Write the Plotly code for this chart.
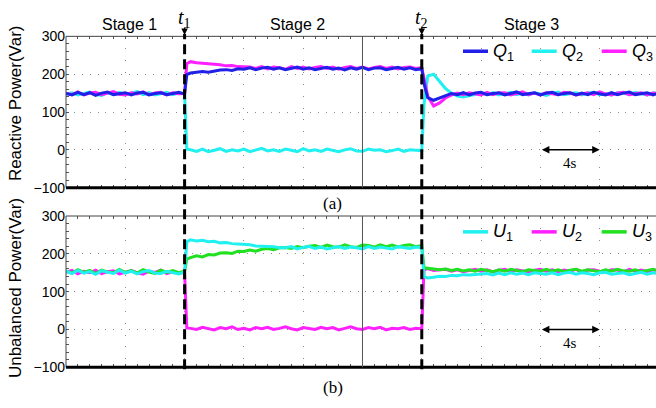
import plotly.graph_objects as go

# ---------------- data ----------------
time_s = [0.0, 0.4, 0.8, 1.2, 1.6, 2.0, 2.4, 2.8, 3.2, 3.6, 4.0, 4.4, 4.8, 5.2, 5.6, 6.0, 6.4, 6.8, 7.2, 7.6, 8.0,
          8.15,
          8.4, 8.8, 9.2, 9.6, 10.0, 10.4, 10.8, 11.2, 11.6, 12.0, 12.4, 12.8, 13.2, 13.6, 14.0, 14.4, 14.8, 15.2, 15.6, 16.0,
          16.4, 16.8, 17.2, 17.6, 18.0, 18.4, 18.8, 19.2, 19.6, 20.0, 20.4, 20.8, 21.2, 21.6, 22.0, 22.4, 22.8, 23.2, 23.6, 24.0,
          24.15,
          24.4, 24.8, 25.2, 25.6, 26.0, 26.4, 26.8, 27.2, 27.6, 28.0, 28.4, 28.8, 29.2, 29.6, 30.0, 30.4, 30.8, 31.2, 31.6, 32.0,
          32.4, 32.8, 33.2, 33.6, 34.0, 34.4, 34.8, 35.2, 35.6, 36.0, 36.4, 36.8, 37.2, 37.6, 38.0, 38.4, 38.8, 39.2, 39.6, 40.0]

# Reactive power (Var)
q1_stage1 = [149, 145, 152, 146, 151, 144, 150, 153, 146, 149, 151, 145, 150, 152, 145, 149, 151, 146, 150, 152, 148]
q1_stage2 = [199,
             203, 206, 207, 205, 209, 211, 212, 210, 214, 213, 217, 212, 216, 218, 213, 217, 212, 215, 219, 213,
             217, 212, 216, 218, 213, 216, 211, 217, 213, 218, 212, 216, 217, 212, 215, 218, 213, 217, 212, 215]
q1_stage3 = [175,
             138, 131, 137, 144, 149, 146, 151, 145, 150, 152, 146, 149, 151, 145, 150, 153, 146, 149, 151, 145,
             150, 152, 146, 149, 151, 145, 150, 146, 152, 148, 145, 151, 146, 150, 153, 146, 149, 151, 145, 150]

q2_stage1 = [147, 151, 145, 150, 153, 147, 144, 151, 146, 152, 145, 150, 154, 146, 151, 145, 148, 152, 146, 150, 148]
q2_stage2 = [2,
             0, -4, 2, -5, -1, 3, -4, 0, -3, 2, -5, -1, 4, -3, 0, -4, 2, -1, -5, 3,
             -3, 0, -4, 2, -1, -5, 0, 3, -3, -4, 2, -1, 0, -5, -2, 2, -4, 0, -1, -2]
q2_stage3 = [120,
             195, 200, 180, 162, 150, 142, 140, 143, 147, 150, 146, 151, 145, 148, 152, 146, 150, 145, 151, 148,
             144, 150, 153, 146, 148, 151, 145, 150, 152, 146, 148, 145, 151, 150, 146, 152, 148, 145, 150, 151]

q3_stage1 = [150, 146, 153, 145, 150, 152, 146, 151, 154, 147, 145, 151, 148, 153, 146, 150, 152, 145, 151, 148, 149]
q3_stage2 = [228,
             233, 230, 229, 228, 226, 225, 222, 223, 220, 219, 219, 215, 220, 214, 219, 217, 213, 220, 215, 219,
             214, 218, 220, 215, 219, 213, 218, 220, 215, 219, 214, 218, 220, 215, 219, 214, 218, 219, 215, 217]
q3_stage3 = [185,
             142, 116, 124, 137, 145, 150, 146, 151, 148, 145, 152, 146, 150, 151, 145, 148, 153, 146, 150, 145,
             151, 148, 146, 152, 150, 145, 148, 151, 146, 153, 148, 145, 150, 152, 146, 148, 151, 145, 150, 148]

# Unbalanced power (Var)
u1_stage1 = [154, 148, 156, 149, 153, 146, 155, 151, 148, 157, 149, 154, 147, 153, 156, 149, 148, 154, 151, 147, 152]
u1_stage2 = [232,
             237, 234, 236, 232, 233, 229, 230, 227, 226, 225, 224, 221, 221, 220, 219, 216, 216, 219, 213, 217,
             220, 214, 218, 213, 217, 219, 214, 218, 216, 213, 219, 214, 218, 216, 213, 219, 216, 214, 218, 216]
u1_stage3 = [140,
             136, 138, 141, 140, 143, 142, 145, 144, 145, 146, 148, 144, 149, 145, 150, 146, 149, 145, 150, 148,
             146, 150, 145, 149, 151, 146, 150, 148, 145, 150, 151, 146, 148, 150, 145, 149, 151, 146, 150, 148]

u2_stage1 = [151, 156, 147, 154, 150, 157, 148, 153, 155, 147, 151, 156, 150, 146, 154, 151, 157, 148, 153, 150, 151]
u2_stage2 = [4,
             3, 0, 6, 2, -1, 5, 2, 7, 0, 3, -1, 5, 2, 6, 0, 3, 7, 2, -1, 5,
             3, 0, 6, 2, 5, -1, 3, 7, 2, 0, 5, 2, 6, -1, 3, 2, 5, 0, 3, 2]
u2_stage3 = [158,
             161, 156, 157, 159, 154, 158, 153, 157, 159, 154, 158, 152, 157, 159, 153, 158, 154, 152, 157, 159,
             154, 158, 153, 157, 154, 159, 152, 157, 158, 154, 153, 158, 157, 152, 159, 154, 157, 153, 158, 155]

u3_stage1 = [155, 149, 158, 151, 156, 148, 157, 152, 150, 159, 151, 156, 149, 158, 152, 148, 157, 151, 156, 150, 154]
u3_stage2 = [186,
             190, 195, 192, 198, 197, 202, 203, 201, 207, 206, 210, 207, 212, 214, 211, 216, 217, 214, 219, 216,
             220, 222, 217, 223, 219, 218, 224, 219, 217, 223, 222, 218, 224, 219, 223, 218, 222, 224, 219, 222]
u3_stage3 = [163,
             162, 160, 158, 160, 156, 159, 155, 158, 154, 159, 155, 153, 158, 154, 159, 155, 153, 158, 155, 154,
             159, 154, 158, 153, 157, 159, 154, 158, 155, 153, 158, 154, 159, 155, 154, 158, 153, 157, 159, 154]

Q1 = q1_stage1 + q1_stage2 + q1_stage3
Q2 = q2_stage1 + q2_stage2 + q2_stage3
Q3 = q3_stage1 + q3_stage2 + q3_stage3
U1 = u1_stage1 + u1_stage2 + u1_stage3
U2 = u2_stage1 + u2_stage2 + u2_stage3
U3 = u3_stage1 + u3_stage2 + u3_stage3

event_times = [8, 24]
event_labels = ["<i>t</i><sub>1</sub>", "<i>t</i><sub>2</sub>"]
stage_labels = ["Stage 1", "Stage 2", "Stage 3"]
stage_centers = [4.3, 15.6, 31.4]
y_ticks = [-100, 0, 100, 200, 300]
scale_bar = [32, 36]

# ---------------- styling ----------------
W, H = 656, 408
BLUE, CYAN, MAGENTA, GREEN = "#2020e8", "#20f0f0", "#ff20ff", "#20e020"
SANS = "Liberation Sans, Arial, sans-serif"
SERIF = "Liberation Serif, Times New Roman, serif"
TRACE_W = 3

def px_x(p):
    return p / W

def px_y(p):
    return 1 - p / H

x_dom = [px_x(66), 1.0]
top_dom = [px_y(187), px_y(29.5)]
bot_dom = [px_y(374), px_y(216.5)]

fig = go.Figure()
for y, c in [(Q2, CYAN), (Q3, MAGENTA), (Q1, BLUE)]:
    fig.add_trace(go.Scatter(x=time_s, y=y, mode="lines", line=dict(color=c, width=TRACE_W),
                             xaxis="x", yaxis="y", showlegend=False, hoverinfo="skip"))
for y, c in [(U2, MAGENTA), (U3, GREEN), (U1, CYAN)]:
    fig.add_trace(go.Scatter(x=time_s, y=y, mode="lines", line=dict(color=c, width=TRACE_W),
                             xaxis="x2", yaxis="y2", showlegend=False, hoverinfo="skip"))

grid_col = "#8a8a8a"
xcommon = dict(range=[0, 39.8], domain=x_dom, dtick=4, tick0=0, showticklabels=False,
               showgrid=True, gridcolor=grid_col, griddash="1px,10.86px", gridwidth=1,
               zeroline=False, showline=False, ticks="inside", ticklen=3, tickcolor="#555",
               mirror="ticks",
               minor=dict(dtick=0.8, tick0=0, ticks="inside", ticklen=3, tickcolor="#555", showgrid=False))
ycommon = dict(range=[-100, 300], tickvals=y_ticks, showgrid=True, gridcolor=grid_col,
               griddash="1px,6.88px", gridwidth=1, zeroline=False, showline=False,
               ticks="inside", ticklen=3, tickcolor="#555",
               minor=dict(dtick=20, tick0=0, ticks="inside", ticklen=3, tickcolor="#555", showgrid=False),
               tickfont=dict(family=SANS, size=14, color="black"))

fig.update_layout(
    width=W, height=H, margin=dict(l=0, r=0, t=0, b=0),
    paper_bgcolor="white", plot_bgcolor="white",
    xaxis=dict(anchor="y", **xcommon),
    yaxis=dict(domain=top_dom, anchor="x", **ycommon),
    xaxis2=dict(anchor="y2", **xcommon),
    yaxis2=dict(domain=bot_dom, anchor="x2", **ycommon),
)

shapes = []
for dom, xr, yr in [(top_dom, "x", "y"), (bot_dom, "x2", "y2")]:
    shapes.append(dict(type="line", xref="paper", yref="paper", x0=x_dom[0], x1=1, y0=dom[1], y1=dom[1],
                       line=dict(color="#444", width=1)))
    shapes.append(dict(type="line", xref="paper", yref="paper", x0=x_dom[0], x1=x_dom[0], y0=dom[0], y1=dom[1],
                       line=dict(color="#444", width=1)))
    shapes.append(dict(type="line", xref="paper", yref="paper", x0=x_dom[0], x1=1, y0=dom[0], y1=dom[0],
                       line=dict(color="black", width=3)))
    shapes.append(dict(type="line", xref=xr, yref=yr + " domain", x0=20, x1=20, y0=0, y1=1,
                       line=dict(color="#555", width=1)))

for t in event_times:
    shapes.append(dict(type="line", xref="x", yref="paper", x0=t, x1=t, y0=px_y(376), y1=px_y(27),
                       line=dict(color="black", width=3, dash="10px,5px")))

legend_x = [463, 531.7, 601.7]
q_names = ["<i>Q</i><sub>1</sub>", "<i>Q</i><sub>2</sub>", "<i>Q</i><sub>3</sub>"]
u_names = ["<i>U</i><sub>1</sub>", "<i>U</i><sub>2</sub>", "<i>U</i><sub>3</sub>"]
for names, cols, ypx in [(q_names, [BLUE, CYAN, MAGENTA], 45), (u_names, [CYAN, MAGENTA, GREEN], 233)]:
    for lx, nm, c in zip(legend_x, names, cols):
        shapes.append(dict(type="line", xref="paper", yref="paper", x0=px_x(lx), x1=px_x(lx + 25),
                           y0=px_y(ypx), y1=px_y(ypx), line=dict(color=c, width=3.5)))
fig.update_layout(shapes=shapes)

ann = []
for names, ypx in [(q_names, 45), (u_names, 233)]:
    for lx, nm in zip(legend_x, names):
        ann.append(dict(text=nm, xref="paper", yref="paper", x=px_x(lx + 28), y=px_y(ypx + 1),
                        xanchor="left", yanchor="middle", showarrow=False,
                        font=dict(family=SANS, size=18, color="black")))

for s, c in zip(stage_labels, stage_centers):
    ann.append(dict(text=s, xref="x", yref="paper", x=c, y=px_y(17.5), xanchor="center", yanchor="middle",
                    showarrow=False, font=dict(family=SANS, size=16, color="black")))

for t, lab in zip(event_times, event_labels):
    ann.append(dict(text=lab, xref="x", yref="paper", x=t, y=px_y(11), xanchor="center", yanchor="middle",
                    showarrow=False, font=dict(family=SERIF, size=20, color="black")))
    ann.append(dict(text="", xref="x", yref="paper", x=t, y=px_y(28), ax=0, ay=-9,
                    showarrow=True, arrowhead=2, arrowsize=1, arrowwidth=1.3, arrowcolor="black"))

ann.append(dict(text="Reactive Power(Var)", xref="paper", yref="paper", x=px_x(15), y=px_y(99),
                textangle=-90, showarrow=False, xanchor="center", yanchor="middle",
                font=dict(family=SANS, size=17, color="black")))
ann.append(dict(text="Unbalanced Power(Var)", xref="paper", yref="paper", x=px_x(15), y=px_y(291.5),
                textangle=-90, showarrow=False, xanchor="center", yanchor="middle",
                font=dict(family=SANS, size=17, color="black")))

ann.append(dict(text="(a)", xref="paper", yref="paper", x=px_x(333), y=px_y(203), showarrow=False,
                xanchor="center", yanchor="middle", font=dict(family=SERIF, size=17, color="black")))
ann.append(dict(text="(b)", xref="paper", yref="paper", x=px_x(333), y=px_y(395), showarrow=False,
                xanchor="center", yanchor="middle", font=dict(family=SERIF, size=17, color="black")))

for xr, yr in [("x", "y"), ("x2", "y2")]:
    ann.append(dict(text="", xref=xr, yref=yr, x=scale_bar[1], y=0, axref=xr, ayref=yr,
                    ax=scale_bar[0], ay=0, showarrow=True, arrowhead=2, arrowside="end+start",
                    arrowsize=1, arrowwidth=1.5, arrowcolor="black"))
    ann.append(dict(text="4s", xref=xr, yref=yr, x=sum(scale_bar) / 2, y=-35, showarrow=False,
                    xanchor="center", yanchor="middle", font=dict(family=SERIF, size=15, color="black")))

fig.update_layout(annotations=ann)
fig.write_html("out.html", config={"displayModeBar": False},
               post_script="document.body.style.margin='0';document.body.style.overflow='hidden';")
